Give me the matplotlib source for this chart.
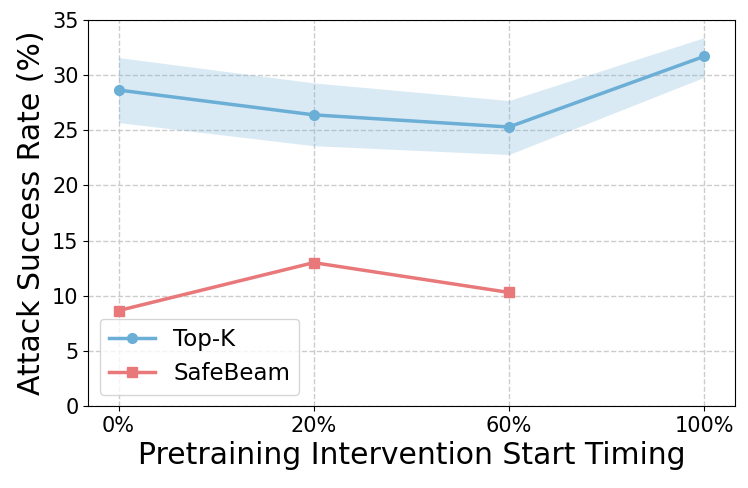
import matplotlib
matplotlib.use("Agg")
import matplotlib.pyplot as plt
import numpy as np

timings = ["0%", "20%", "60%", "100%"]
topk = [28.65, 26.4, 25.3, 31.7]
topk_low = [25.7, 23.6, 22.8, 29.8]
topk_high = [31.6, 29.3, 27.7, 33.4]
safebeam = [8.65, 13.0, 10.3]

blue = "#6baed6"
red = "#e8787a"

fig = plt.figure(figsize=(7.48, 4.88), dpi=100)
ax = fig.add_axes([0.118, 0.168, 0.865, 0.791])

x = np.arange(len(timings))
ax.fill_between(x, topk_low, topk_high, color=blue, alpha=0.25, linewidth=0)
ax.plot(x, topk, marker="o", color=blue, linewidth=2.5, markersize=7, label="Top-K")
ax.plot(x[:len(safebeam)], safebeam, marker="s", color=red, linewidth=2.5, markersize=7, label="SafeBeam")

ax.set_xticks(x)
ax.set_xticklabels(timings)
ax.set_xlim(-0.155, 3.16)
ax.set_ylim(0, 35)
ax.set_yticks(range(0, 36, 5))
ax.tick_params(labelsize=15)
ax.grid(True, linestyle="--", color="#cccccc", linewidth=1)
ax.set_axisbelow(True)

ax.set_xlabel("Pretraining Intervention Start Timing", fontsize=21.5)
ax.set_ylabel("Attack Success Rate (%)", fontsize=21.5)
ax.legend(loc="lower left", fontsize=16.5)

fig.savefig("out.png", dpi=100)
